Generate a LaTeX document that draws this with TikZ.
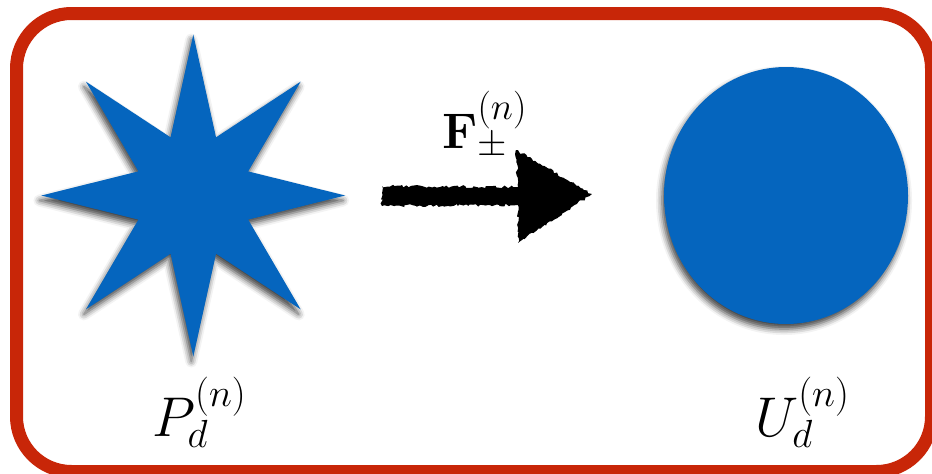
\RequirePackage{fix-cm}
\documentclass[tikz,border=0pt]{standalone}
\usepackage{amsmath}
\usepackage{graphicx}
\usetikzlibrary{shadows.blur,decorations.pathmorphing}
\definecolor{framered}{RGB}{200,38,8}
\definecolor{shapeblue}{RGB}{5,101,190}
\newcommand{\boldF}{\text{\fontsize{50}{54}\selectfont\bfseries F}}
\begin{document}
\begin{tikzpicture}[x=1pt,y=-1pt,
  frame/.style={draw=framered,line width=13pt,rounded corners=55pt},
  bluefill/.style={fill=shapeblue,blur shadow={shadow xshift=-2pt,shadow yshift=-5pt,shadow blur radius=6pt,shadow opacity=75}},
  roughfill/.style={fill=black,decorate,decoration={random steps,segment length=2.5pt,amplitude=1.4pt}},
  biglabel/.style={inner sep=0pt,font=\fontsize{56}{60}\selectfont},
  smalllabel/.style={inner sep=0pt,font=\fontsize{54}{58}\selectfont}]
\useasboundingbox (0,0) rectangle (932,474);
\draw[frame] (16.5,13.5) rectangle (931.5,471.5);
% star
\path[bluefill,shift={(193.3,195.5)},xscale=0.943]
  (0:161) \foreach \a in {0,45,...,315} { -- (\a:161) -- (\a+22.5:63) } -- cycle;
% circle
\path[bluefill] (786,195.5) ellipse [x radius=122pt,y radius=128.5pt];
% arrow
\coordinate (arrowtail) at (382,196);
\coordinate (arrowtip) at (592,194);
\fill[roughfill] (arrowtail) ++(0,-10) -- (518,187) -- (516,150) -- (arrowtip) -- (518,243) -- (518,205) -- (382,206) -- cycle;
% labels
\node[smalllabel,anchor=base west] (flabel) at (442,148) {$\boldF_\pm^{(n)}$};
\node[biglabel,anchor=base west] (plabel) at (152,436) {$P_d^{(n)}$};
\node[biglabel,anchor=base west] (ulabel) at (755,436) {$U_d^{(n)}$};
\end{tikzpicture}
\end{document}
